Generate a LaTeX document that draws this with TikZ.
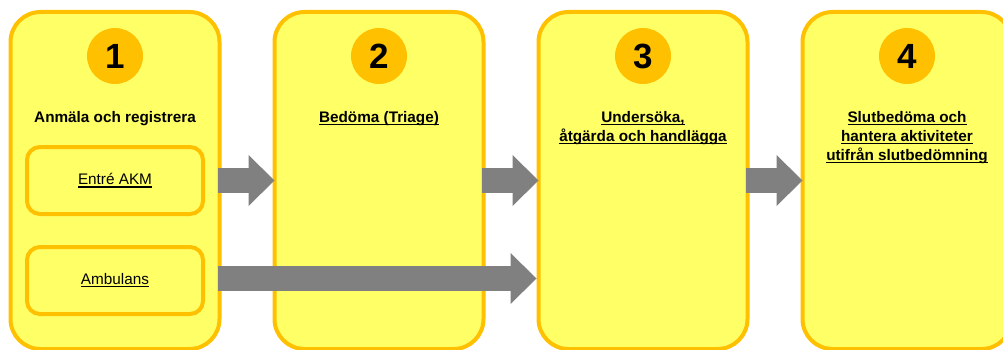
\documentclass[tikz,border=0pt]{standalone}
\usepackage{fontspec}
\setmainfont{Liberation Sans}
\usetikzlibrary{positioning,arrows.meta}
\definecolor{boxorange}{HTML}{FFC000}
\definecolor{boxyellow}{HTML}{FFFF66}
\definecolor{arrowgray}{HTML}{808080}
\newcommand{\lineunder}[1]{\setbox0\hbox{#1}\rlap{\rule[-2.8pt]{\wd0}{1.2pt}}\box0}

\begin{document}
\begin{tikzpicture}[x=1pt,y=-1pt,
stage/.style={draw=boxorange,fill=boxyellow,line width=4pt,rounded corners=30pt,
  minimum width=209pt,minimum height=337pt,inner sep=0pt,outer sep=0pt},
entry/.style={draw=boxorange,fill=boxyellow,line width=4pt,rounded corners=13pt,
  minimum width=176pt,minimum height=67pt,outer sep=0pt,font=\fontsize{15.3}{19}\selectfont},
num/.style={circle,fill=boxorange,minimum size=56pt,inner sep=0pt,outer sep=0pt,
  font=\fontsize{35}{40}\selectfont\bfseries},
title/.style={align=center,inner sep=0pt,outer sep=0pt,font=\fontsize{15.3}{19}\selectfont\bfseries},
flow/.style={draw=arrowgray,line width=25pt,-{Triangle[length=26pt,width=51pt,line width=0pt]}}
]
\useasboundingbox (0,0) rectangle (1003,350);
\clip (0,0) rectangle (1003,350);

% The boxes
\node[stage] (s1) at (115,180.5) {};
\node[stage,right=55pt of s1] (s2) {};
\node[stage,right=55pt of s2] (s3) {};
\node[stage,right=55pt of s3] (s4) {};

% The numbers
\node[num,below=16pt of s1.north] (n1) {1};
\node[num,below=16pt of s2.north] (n2) {2};
\node[num,below=16pt of s3.north] (n3) {3};
\node[num,below=16pt of s4.north] (n4) {4};

% The labels
\node[title,below=27pt of n1] (t1) {Anmäla och registrera};
\node[title,below=27pt of n2] (t2) {\lineunder{Bedöma (Triage)}};
\node[title,below=27pt of n3] (t3) {\lineunder{Undersöka,}\\\lineunder{åtgärda och handlägga}};
\node[title,below=27pt of n4] (t4) {\lineunder{Slutbedöma och}\\\lineunder{hantera aktiviteter}\\\lineunder{utifrån slutbedömning}};

% The entries
\node[entry] (e1) at (115,180.5) {\lineunder{Entré AKM}};
\node[entry,below=33pt of e1] (e2) {\lineunder{Ambulans}};

% The arrows
\draw[flow] ([xshift=-2pt]e1.east -| s1.east) -- (e1.east -| s2.west);
\draw[flow] ([xshift=-2pt]e1.east -| s2.east) -- (e1.east -| s3.west);
\draw[flow] ([xshift=-2pt]e1.east -| s3.east) -- (e1.east -| s4.west);
\draw[flow] ([xshift=-2pt,yshift=2pt]e2.east -| s1.east) -- ([xshift=-2pt,yshift=2pt]e2.east -| s3.west);
\end{tikzpicture}
\end{document}
